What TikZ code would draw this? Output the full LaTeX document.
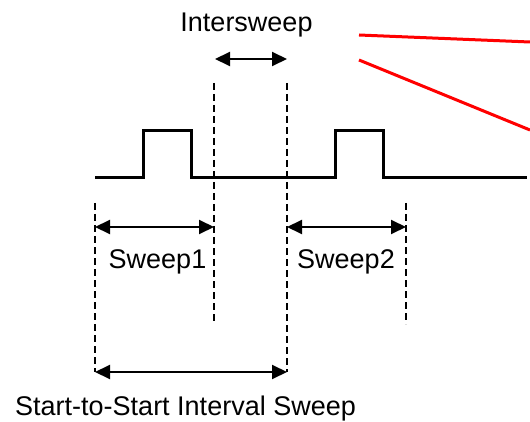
\documentclass[tikz,border=0pt]{standalone}
\usepackage{fontspec}
\setmainfont{Liberation Sans}
\usetikzlibrary{arrows.meta}
\begin{document}
\begin{tikzpicture}[x=1pt,y=-1pt,
  wave/.style={line width=3pt,line join=miter},
  guide/.style={line width=1.5pt,dash pattern=on 7pt off 4pt},
  span/.style={line width=2pt,{Triangle[length=15pt,width=14pt]}-{Triangle[length=15pt,width=14pt]},shorten <=0pt,shorten >=0pt},
  redline/.style={line width=3pt,red},
  lbl/.style={inner sep=0pt,font=\fontsize{27}{30}\selectfont}]
\useasboundingbox (0,0) rectangle (530,422);
% waveform
\coordinate (w0) at (95,178);
\coordinate (w1) at (143,178);
\coordinate (w2) at (143,131);
\coordinate (w3) at (191,131);
\coordinate (w4) at (191,178);
\coordinate (w5) at (335,178);
\coordinate (w6) at (335,131);
\coordinate (w7) at (383,131);
\coordinate (w8) at (383,178);
\coordinate (w9) at (527,178);
\draw[wave] (w0) -- (w1) -- (w2) -- (w3) -- (w4) -- (w5) -- (w6) -- (w7) -- (w8) -- (w9);
% dashed guides
\coordinate (dAt) at (95,203);   \coordinate (dAb) at (95,372);
\coordinate (dBt) at (214,83);   \coordinate (dBb) at (214,324);
\coordinate (dCt) at (287,83);   \coordinate (dCb) at (287,372);
\coordinate (dDt) at (406,203);  \coordinate (dDb) at (406,324);
\draw[guide] (dAt) -- (dAb);
\draw[guide] (dBt) -- (dBb);
\draw[guide] (dCt) -- (dCb);
\draw[guide] (dDt) -- (dDb);
% span arrows
\coordinate (i1) at (215,59);  \coordinate (i2) at (287,59);
\coordinate (s1a) at (95,227); \coordinate (s1b) at (214,227);
\coordinate (s2a) at (287,227); \coordinate (s2b) at (406,227);
\coordinate (ta) at (95,372);  \coordinate (tb) at (287,372);
\draw[span] (i1) -- (i2);
\draw[span] (s1a) -- (s1b);
\draw[span] (s2a) -- (s2b);
\draw[span] (ta) -- (tb);
% red lines
\coordinate (r1a) at (359,35); \coordinate (r1b) at (530,42);
\coordinate (r2a) at (359,60); \coordinate (r2b) at (530,130);
\draw[redline] (r1a) -- (r1b);
\draw[redline] (r2a) -- (r2b);
% labels
\node[lbl,anchor=base] (tInter) at (246.5,32) {Intersweep};
\node[lbl,anchor=base] (tS1) at (157.5,268) {Sweep1};
\node[lbl,anchor=base] (tS2) at (346,268) {Sweep2};
\node[lbl,anchor=base west] (tSS) at (15,415) {Start-to-Start Interval Sweep};
\end{tikzpicture}
\end{document}
